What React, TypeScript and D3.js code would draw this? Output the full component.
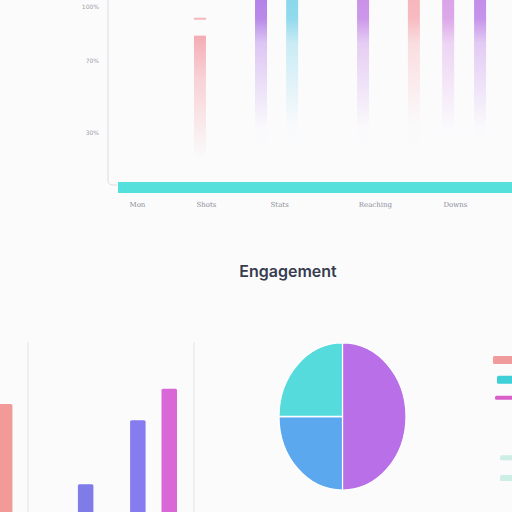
import React, { useEffect, useRef } from 'react';
import * as d3 from 'd3';

// top chart: faded vertical bars (values run past the top edge)
const topBarNames = ['Views', 'Likes', 'Shares', 'Saves', 'Replies', 'Follows', 'Downs'];
const topBarPos = [20.8, 36.3, 44.2, 62.2, 75.1, 83.8, 91.9];
const topBarValues = [84, 112, 112, 112, 112, 112, 112];
const topBarColors = ['#f39ea6', '#ad76e6', '#7fd4ea', '#c487e6', '#f6b0b6', '#d79ae6', '#bd82e8'];
const topMarkerValue = 94;
const topBaseValue = 100;

const topTickValues = [30, 70, 100];
const topTickLabels = ['30%', '70%', '100%'];
const topCatPos = [4.8, 22.3, 40.9, 65.2, 85.5];
const topCatLabels = ['Mon', 'Shots', 'Stats', 'Reaching', 'Downs'];

// bottom left bars
const sideBarPos = [0.22, 4.27, 6.88, 8.45];
const sideBarValues = [65.5, 21, 56.5, 74];
const sideBarColors = ['#f19a98', '#7f7be9', '#867cef', '#d967d6'];
const sideGrid = [1.4, 9.7];

// pie
const pieLabels = ['Reach', 'Clicks', 'Shares'];
const pieValues = [50, 25, 25];
const pieColors = ['#b86fe8', '#5ba8ef', '#55dbdc'];

// legend swatches at right edge
const legendColors = ['#f19c9c', '#3fcfd6', '#d95ec8', '#cdeee4', '#cdeee4'];
const legendWidths = [19, 15, 17, 12, 12];
const legendHeights = [8, 8, 4, 5, 6];
const legendRows = [0, 1, 2, 5, 6];

const App: React.FC = () => {
  const svgRef = useRef<SVGSVGElement>(null);

  useEffect(() => {
    if (!svgRef.current) return;
    const svg = d3.select(svgRef.current);
    svg.selectAll('*').remove();

    svg.append('rect').attr('width', 512).attr('height', 512).attr('fill', '#fbfbfc');

    const defs = svg.append('defs');
    topBarColors.forEach((c, i) => {
      const g = defs.append('linearGradient')
        .attr('id', `fade${i}`).attr('x1', 0).attr('x2', 0).attr('y1', 0).attr('y2', 1);
      const stops = i === 0
        ? [[0, 0.85], [0.35, 0.45], [1, 0.02]]
        : [[0, 0.95], [0.2, 0.85], [0.35, 0.4], [0.85, 0.02], [1, 0]];
      stops.forEach(([o, a]) => g.append('stop').attr('offset', o).attr('stop-color', c).attr('stop-opacity', a));
    });

    // ---- top chart
    const x = d3.scaleLinear().domain([0, 100]).range([118, 512]);
    const y = d3.scaleLinear().domain([0, 100]).range([186, 7]);
    const top = svg.append('g');

    top.selectAll('rect.vbar')
      .data(topBarValues)
      .enter()
      .append('rect')
      .attr('x', (_, i) => x(topBarPos[i]) - 6)
      .attr('y', d => y(d))
      .attr('width', 12)
      .attr('height', d => y(d < 100 ? 17 : 20) - y(d))
      .attr('fill', (_, i) => `url(#fade${i})`);

    top.append('rect')
      .attr('x', x(topBarPos[0]) - 6)
      .attr('y', y(topMarkerValue))
      .attr('width', 12)
      .attr('height', 2)
      .attr('fill', '#f6b7bb');

    top.append('rect')
      .attr('x', x(0))
      .attr('y', y(0) - 4)
      .attr('width', x(topBaseValue) - x(0))
      .attr('height', 11)
      .attr('fill', '#55e0dc');

    top.append('path')
      .attr('d', `M108,0 V${y(0) - 6} Q108,${y(0) - 1} 113,${y(0) - 1} H117`)
      .attr('fill', 'none')
      .attr('stroke', '#dcdde3')
      .attr('stroke-width', 1);

    const yAxis = top.append('g')
      .attr('transform', 'translate(102,0)')
      .call(d3.axisLeft(y).tickValues(topTickValues).tickSize(0)
        .tickFormat((_, i) => topTickLabels[i]));
    yAxis.select('.domain').remove();
    yAxis.selectAll('text')
      .attr('fill', '#a0a0a8').style('font-size', '6px').style('font-family', 'DejaVu Sans');

    const xAxis = top.append('g')
      .attr('transform', 'translate(0,199)')
      .call(d3.axisBottom(x).tickValues(topCatPos).tickSize(0)
        .tickFormat((_, i) => topCatLabels[i]));
    xAxis.select('.domain').remove();
    xAxis.selectAll('text')
      .attr('fill', '#8e8e96').style('font-size', '7px').style('font-family', 'DejaVu Serif');

    // ---- title
    svg.append('text')
      .attr('x', 288).attr('y', 277)
      .attr('text-anchor', 'middle')
      .attr('fill', '#373c4f')
      .style('font-family', 'Inter')
      .style('font-weight', '600')
      .style('font-size', '16px')
      .text('Engagement');

    // ---- bottom left bars
    const bx = d3.scaleLinear().domain([0, 10]).range([0, 200]);
    const by = d3.scaleLinear().domain([0, 100]).range([522, 342]);
    const side = svg.append('g');
    side.selectAll('line.grid')
      .data(sideGrid)
      .enter()
      .append('line')
      .attr('x1', d => bx(d)).attr('x2', d => bx(d))
      .attr('y1', by(100)).attr('y2', 512)
      .attr('stroke', '#e4e4ea');
    side.selectAll('rect.sbar')
      .data(sideBarValues)
      .enter()
      .append('rect')
      .attr('x', (_, i) => bx(sideBarPos[i]) - 7.5)
      .attr('y', d => by(d))
      .attr('width', 15.5)
      .attr('height', d => by(0) - by(d))
      .attr('rx', 1.5)
      .attr('fill', (_, i) => sideBarColors[i]);

    // ---- pie
    const pie = d3.pie<number>().sort(null)(pieValues);
    const arc = d3.arc<d3.PieArcDatum<number>>().innerRadius(0).outerRadius(63.5);
    const pg = svg.append('g').attr('transform', 'translate(342.5,416.5) scale(1,1.16)');
    pg.selectAll('path')
      .data(pie)
      .enter()
      .append('path')
      .attr('d', arc)
      .attr('fill', (_, i) => pieColors[i])
      .attr('stroke', '#ffffff')
      .attr('stroke-width', 1.2)
      .append('title')
      .text((_, i) => pieLabels[i]);

    // ---- legend swatches
    const ly = d3.scaleLinear().domain([0, 6]).range([356, 475]);
    svg.selectAll('rect.leg')
      .data(legendColors)
      .enter()
      .append('rect')
      .attr('x', (_, i) => 512 - legendWidths[i])
      .attr('y', (_, i) => ly(legendRows[i]))
      .attr('width', (_, i) => legendWidths[i] + 4)
      .attr('height', (_, i) => legendHeights[i])
      .attr('rx', 1.5)
      .attr('fill', d => d);
  }, []);

  return (
    <svg
      ref={svgRef}
      width={512}
      height={512}
      style={{ position: 'fixed', top: 0, left: 0, display: 'block' }}
    />
  );
};

export default App;
